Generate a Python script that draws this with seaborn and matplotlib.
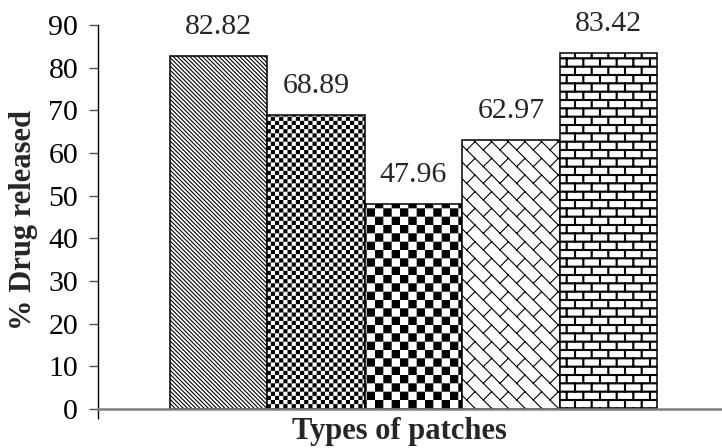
import warnings
warnings.filterwarnings('ignore')
import numpy as np
import pandas as pd
import matplotlib
matplotlib.use('Agg')
import matplotlib.pyplot as plt
from matplotlib import hatch as mhatch
from matplotlib.path import Path
import seaborn as sns

# ---------------- data ----------------
patch_types = ['Patch 1', 'Patch 2', 'Patch 3', 'Patch 4', 'Patch 5']
drug_released = [82.82, 68.89, 47.96, 62.97, 83.42]
y_ticks = [0, 10, 20, 30, 40, 50, 60, 70, 80, 90]
x_label = 'Types of patches'
y_label = '% Drug released'

# ---------------- custom hatch patterns (Excel-like fills) ----------------
HATCH_LW = 0.8  # points
HALF = HATCH_LW / 144.0  # half hatch stroke width in tile units


class _ShapeHatch(mhatch.HatchPatternBase):
    char = None

    def __init__(self, hatch, density):
        self.items = self.build() if (hatch and self.char in hatch) else []
        self.num_vertices = sum(len(p) + (1 if c else 0) for p, c in self.items)

    def build(self):
        return []

    def set_vertices_and_codes(self, vertices, codes):
        i = 0
        for pts, closed in self.items:
            n = len(pts)
            vertices[i:i + n] = pts
            codes[i] = Path.MOVETO
            codes[i + 1:i + n] = Path.LINETO
            i += n
            if closed:
                vertices[i] = pts[0]
                codes[i] = Path.CLOSEPOLY
                i += 1


def _rect(x0, y0, x1, y1):
    return ([(x0, y0), (x1, y0), (x1, y1), (x0, y1)], True)


class _Checker(_ShapeHatch):
    periods = 6

    def build(self):
        s = 1.0 / (2 * self.periods)
        out = []
        for i in range(2 * self.periods):
            for j in range(2 * self.periods):
                if (i + j) % 2 == 0:
                    out.append(_rect(i * s + HALF, j * s + HALF,
                                     (i + 1) * s - HALF, (j + 1) * s - HALF))
        return out


class FineChecker(_Checker):
    char = 'o'
    periods = 12


class CoarseChecker(_Checker):
    char = 'O'
    periods = 6


class DiagBrick(_ShapeHatch):
    char = '*'
    n = 6

    def build(self):
        n = self.n
        out = []
        for k in range(-2, 2 * n + 3):
            c = k / n
            out.append(([(-0.3, c + 0.3), (1.3, c - 1.3)], False))
            for j in range(-2, n + 2):
                x0 = j / n
                out.append(([(x0, c - x0), (x0 + 0.5 / n, c - x0 + 0.5 / n)], False))
        return out


class Brick(_ShapeHatch):
    char = '.'
    rows = 12
    cols = 6

    def build(self):
        out = []
        h = 0.005
        for i in range(self.rows + 1):
            y = i / self.rows
            out.append(_rect(-0.05, y - h, 1.05, y + h))
        for i in range(self.rows):
            y0, y1 = i / self.rows, (i + 1) / self.rows
            off = 0.5 * (i % 2)
            for j in range(-1, self.cols + 2):
                x = (j + off) / self.cols
                out.append(_rect(x - h, y0, x + h, y1))
        return out


mhatch._hatch_types[:] = [mhatch.SouthEastHatch, FineChecker, CoarseChecker,
                          DiagBrick, Brick]
hatches = ['\\' * 8, 'o', 'O', '*', '.']

# ---------------- styling ----------------
sns.set_theme(style='white')
plt.rcParams['font.family'] = ['Liberation Serif', 'DejaVu Serif']
plt.rcParams['hatch.linewidth'] = HATCH_LW
plt.rcParams['hatch.color'] = 'black'

df = pd.DataFrame({'patch': patch_types, 'released': drug_released})

fig = plt.figure(figsize=(7.22, 4.48), dpi=100)
ax = fig.add_axes([98.3 / 722, 39 / 448, (722 - 98.3) / 722, 384 / 448])

sns.barplot(data=df, x='patch', y='released', width=1.0, color='white',
            saturation=1, edgecolor='black', linewidth=1.1, ax=ax)

for bar, h in zip(ax.patches, hatches):
    bar.set_hatch(h)
    bar.set_facecolor('white')
    bar.set_edgecolor('black')

ax.bar_label(ax.containers[0], fmt='%.2f', padding=11.5, fontsize=21.5)

ax.set_ylim(0, 90)
ax.set_yticks(y_ticks)
ax.set_xlim(-1.236, 5.167)
ax.set_xticks([-1.236])
ax.set_xticklabels([''])
ax.tick_params(axis='x', direction='out', length=7, width=1, color='black',
               bottom=True)
ax.tick_params(axis='y', direction='out', length=6.5, width=1, color='#555555',
               labelsize=21.5, pad=8, left=True, labelcolor='black')

for s in ['top', 'right']:
    ax.spines[s].set_visible(False)
ax.spines['left'].set_color('black')
ax.spines['left'].set_linewidth(1.0)
ax.spines['bottom'].set_color('#808080')
ax.spines['bottom'].set_linewidth(1.8)

ax.set_xlabel(x_label, fontsize=22, fontweight='bold', va='center')
ax.set_ylabel(y_label, fontsize=22, fontweight='bold', va='center')
ax.xaxis.set_label_coords((399 - 98.3) / 623.7, -22 / 384)
ax.yaxis.set_label_coords((24 - 98.3) / 623.7, (409 - 220) / 384)

fig.savefig('out.png', dpi=100)
